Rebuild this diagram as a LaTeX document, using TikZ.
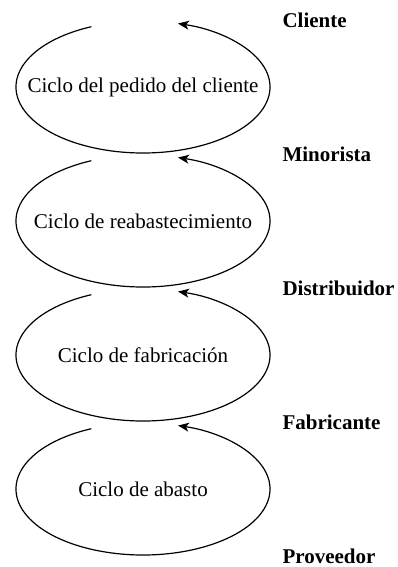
\documentclass[tikz,border=0pt]{standalone}
\usepackage{fontspec}
\setmainfont{Liberation Serif}
\usetikzlibrary{arrows.meta}

\begin{document}
\begin{tikzpicture}[>={Stealth[length=11pt,width=9pt,inset=3pt]},x=1pt,y=1pt,
  lbl/.style={anchor=west,font=\fontsize{21}{25}\selectfont\bfseries},
  ciclo/.style={font=\fontsize{21}{25}\selectfont},
  lazo/.style={->,line width=1.2pt}]
 \xdef\rx{127}
 \xdef\ry{66}
 \xdef\ta{114}
 \xdef\tb{434}
 \useasboundingbox (0,0) rectangle (397,567);
  \begin{scope}[yshift=480pt]
    \node[ciclo] (pedido) at (143,0) {Ciclo del pedido del cliente};
    \draw[lazo] ([shift={(\ta:\rx pt and \ry pt)}]pedido.center)
      arc[start angle=\ta,end angle=\tb,x radius=\rx pt,y radius=\ry pt];
  \end{scope}
  \begin{scope}[yshift=346pt]
    \node[ciclo] (reab) at (143,0) {Ciclo de reabastecimiento};
    \draw[lazo] ([shift={(\ta:\rx pt and \ry pt)}]reab.center)
      arc[start angle=\ta,end angle=\tb,x radius=\rx pt,y radius=\ry pt];
  \end{scope}
  \begin{scope}[yshift=212pt]
    \node[ciclo] (fab) at (143,0) {Ciclo de fabricación};
    \draw[lazo] ([shift={(\ta:\rx pt and \ry pt)}]fab.center)
      arc[start angle=\ta,end angle=\tb,x radius=\rx pt,y radius=\ry pt];
  \end{scope}
  \begin{scope}[yshift=78pt]
    \node[ciclo] (abasto) at (143,0) {Ciclo de abasto};
    \draw[lazo] ([shift={(\ta:\rx pt and \ry pt)}]abasto.center)
      arc[start angle=\ta,end angle=\tb,x radius=\rx pt,y radius=\ry pt];
  \end{scope}
  % etapas
  \node[lbl] (cliente) at (279,547) {Cliente};
  \node[lbl] (minorista) at (279,413) {Minorista};
  \node[lbl] (distrib) at (279,279) {Distribuidor};
  \node[lbl] (fabricante) at (279,145) {Fabricante};
  \node[lbl] (proveedor) at (279,11) {Proveedor};
\end{tikzpicture}
\end{document}
